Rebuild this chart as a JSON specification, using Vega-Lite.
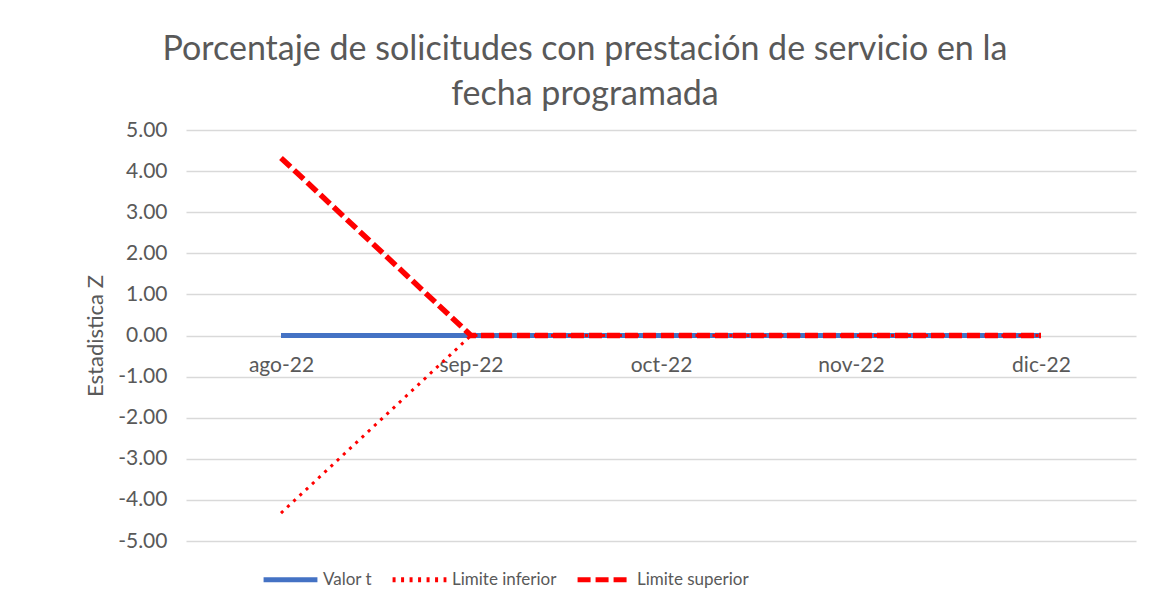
{
  "$schema": "https://vega.github.io/schema/vega-lite/v6.json",
  "autosize": {"type": "none"},
  "width": 950,
  "height": 411,
  "padding": {"left": 186, "top": 130, "right": 21, "bottom": 74},
  "background": "white",
  "config": {
    "font": "Lato",
    "view": {"stroke": null},
    "axis": {"labelColor": "#595959", "titleColor": "#595959", "labelFont": "Lato", "titleFont": "Lato"}
  },
  "title": {
    "text": ["Porcentaje de solicitudes con prestación de servicio en la", "fecha programada"],
    "fontSize": 34,
    "fontWeight": "normal",
    "color": "#595959",
    "font": "Lato",
    "anchor": "middle",
    "frame": "group",
    "dx": -76,
    "offset": 7,
    "lineHeight": 45
  },
  "data": {
    "values": [
      {"mes": "ago-22", "serie": "Valor t", "valor": 0},
      {"mes": "sep-22", "serie": "Valor t", "valor": 0},
      {"mes": "oct-22", "serie": "Valor t", "valor": 0},
      {"mes": "nov-22", "serie": "Valor t", "valor": 0},
      {"mes": "dic-22", "serie": "Valor t", "valor": 0},
      {"mes": "ago-22", "serie": "Limite inferior", "valor": -4.32},
      {"mes": "sep-22", "serie": "Limite inferior", "valor": 0},
      {"mes": "oct-22", "serie": "Limite inferior", "valor": 0},
      {"mes": "nov-22", "serie": "Limite inferior", "valor": 0},
      {"mes": "dic-22", "serie": "Limite inferior", "valor": 0},
      {"mes": "ago-22", "serie": "Limite superior", "valor": 4.32},
      {"mes": "sep-22", "serie": "Limite superior", "valor": 0},
      {"mes": "oct-22", "serie": "Limite superior", "valor": 0},
      {"mes": "nov-22", "serie": "Limite superior", "valor": 0},
      {"mes": "dic-22", "serie": "Limite superior", "valor": 0}
    ]
  },
  "encoding": {
    "x": {
      "field": "mes",
      "type": "ordinal",
      "sort": ["ago-22", "sep-22", "oct-22", "nov-22", "dic-22"],
      "scale": {"type": "point", "padding": 0.5},
      "axis": {
        "title": null,
        "labelAngle": 0,
        "labelFontSize": 21,
        "domain": false,
        "ticks": false,
        "grid": false,
        "offset": -206,
        "labelPadding": 19
      }
    },
    "y": {
      "field": "valor",
      "type": "quantitative",
      "scale": {"domain": [-5, 5], "nice": false},
      "axis": {
        "title": "Estadistica Z",
        "titleFontSize": 22,
        "titleFontWeight": "normal",
        "titlePadding": 10,
        "values": [-5, -4, -3, -2, -1, 0, 1, 2, 3, 4, 5],
        "labelExpr": "replace(format(datum.value, '.2f'), '\u2212', '-')",
        "labelFontSize": 21,
        "labelPadding": 19,
        "domain": false,
        "ticks": false,
        "grid": true,
        "gridColor": "#d9d9d9",
        "gridWidth": 1.3
      }
    },
    "color": {
      "field": "serie",
      "type": "nominal",
      "scale": {"domain": ["Valor t", "Limite inferior", "Limite superior"], "range": ["#4472c4", "#ff0000", "#ff0000"]},
      "legend": {
        "title": null,
        "orient": "none",
        "legendX": 75,
        "legendY": 420,
        "direction": "horizontal",
        "symbolType": "stroke",
        "symbolSize": 2900,
        "symbolStrokeWidth": 5,
        "labelFontSize": 17,
        "labelColor": "#595959",
        "labelFont": "Lato",
        "labelOffset": 3,
        "columnPadding": 10
      }
    },
    "strokeDash": {
      "field": "serie",
      "type": "nominal",
      "scale": {"domain": ["Valor t", "Limite inferior", "Limite superior"], "range": [[1, 0], [3, 5.5], [13, 5]]},
      "legend": null
    }
  },
  "layer": [
    {"transform": [{"filter": "datum.serie === 'Valor t'"}], "mark": {"type": "line", "strokeCap": "butt", "strokeWidth": 5}},
    {"transform": [{"filter": "datum.serie === 'Limite inferior'"}], "mark": {"type": "line", "strokeCap": "butt", "strokeWidth": 3}},
    {"transform": [{"filter": "datum.serie === 'Limite superior'"}], "mark": {"type": "line", "strokeCap": "butt", "strokeWidth": 5.5}}
  ]
}
